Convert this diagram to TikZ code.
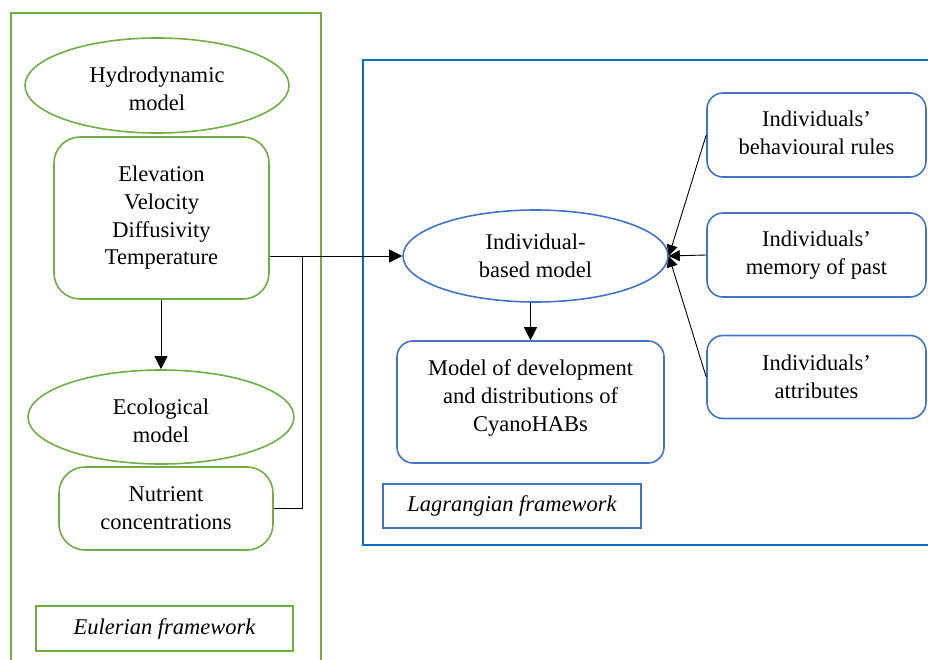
\documentclass[tikz,border=0pt]{standalone}
\usepackage{fontspec}
\setmainfont{Liberation Serif}
\newfontfamily\tnr{Liberation Serif}
\usetikzlibrary{arrows.meta,shapes.geometric}
\definecolor{egreen}{HTML}{70AD47}
\definecolor{oblue}{HTML}{0070C0}
\definecolor{nblue}{HTML}{4472C4}
\tikzset{
  txt/.style={font=\tnr\fontsize{22.5}{27.7}\selectfont, align=center, text=black},
  gell/.style={draw=egreen, line width=1.6pt, ellipse, inner sep=0pt},
  gbox/.style={txt, draw=egreen, line width=1.6pt, rectangle, rounded corners=26pt, inner sep=0pt},
  bell/.style={txt, draw=nblue, line width=1.6pt, ellipse, inner sep=0pt},
  bbox/.style={txt, draw=nblue, line width=1.6pt, rectangle, rounded corners=16pt, inner sep=0pt},
  lbl/.style={txt, font=\tnr\fontsize{22.5}{27}\selectfont\itshape, rectangle, line width=1.6pt, inner sep=0pt},
  arr/.style={draw=black, line width=0.9pt, -{Triangle[length=13pt,width=13pt]}},
  sarr/.style={draw=black, line width=0.9pt, -{Triangle[length=11pt,width=11pt]}},
  ln/.style={draw=black, line width=0.9pt},
}
\begin{document}
\begin{tikzpicture}[x=1pt,y=-1pt]
\useasboundingbox (0,0) rectangle (928,660);
\clip (0,0) rectangle (928,660);
% frameworks
\draw[egreen, line width=2pt] (11,13) rectangle (321,680);
\draw[oblue, line width=2.4pt] (363,60) rectangle (950,545);
% Eulerian side
\node[gell, minimum width=264pt, minimum height=95pt] (hydro) at (157,85.5) {};
\node[txt] (hydrot) at (157,89) {Hydrodynamic\\model};
\node[gbox, minimum width=215pt, minimum height=162pt] (elev) at (161.5,218) {Elevation\\Velocity\\Diffusivity\\Temperature};
\node[gell, minimum width=266pt, minimum height=94pt] (eco) at (161,417) {};
\node[txt] (ecot) at (161,421) {Ecological\\model};
\node[gbox, minimum width=214pt, minimum height=83pt] (nutr) at (166,508.5) {Nutrient\\concentrations};
\node[lbl, draw=egreen, minimum width=257pt, minimum height=45pt] (elab) at (164.5,628.5) {Eulerian framework};
% Lagrangian side
\node[bell, minimum width=265pt, minimum height=92pt] (ibm) at (535.5,256) {Individual-\\based model};
\node[bbox, minimum width=267pt, minimum height=122pt] (dev) at (530.5,402) {};
\node[txt] (devt) at (530.5,398) {Model of development\\and distributions of\\CyanoHABs};
\node[lbl, draw=nblue, minimum width=258pt, minimum height=44pt] (llab) at (512,506) {Lagrangian framework};
\node[bbox, minimum width=219pt, minimum height=84pt] (rules) at (816.5,135) {};
\node[txt] (rulest) at (816.5,133) {Individuals’\\behavioural rules};
\node[bbox, minimum width=219pt, minimum height=84pt] (mem) at (816.5,255) {Individuals’\\memory of past};
\node[bbox, minimum width=219pt, minimum height=83pt] (attr) at (816.5,377) {Individuals’\\attributes};
% connectors
\coordinate (j) at (302,256);
\draw[arr] (elev.east |- ibm.west) -- (ibm.west);
\draw[ln] (nutr.east) -| (j);
\draw[arr] (eco.north |- elev.south) -- (eco.north);
\draw[arr] (ibm.south -| dev.north) -- (dev.north);
\draw[sarr] (rules.west) -- (ibm.east);
\draw[sarr] (mem.west) -- (ibm.east);
\draw[sarr] (attr.west) -- (ibm.east);
\end{tikzpicture}
\end{document}
